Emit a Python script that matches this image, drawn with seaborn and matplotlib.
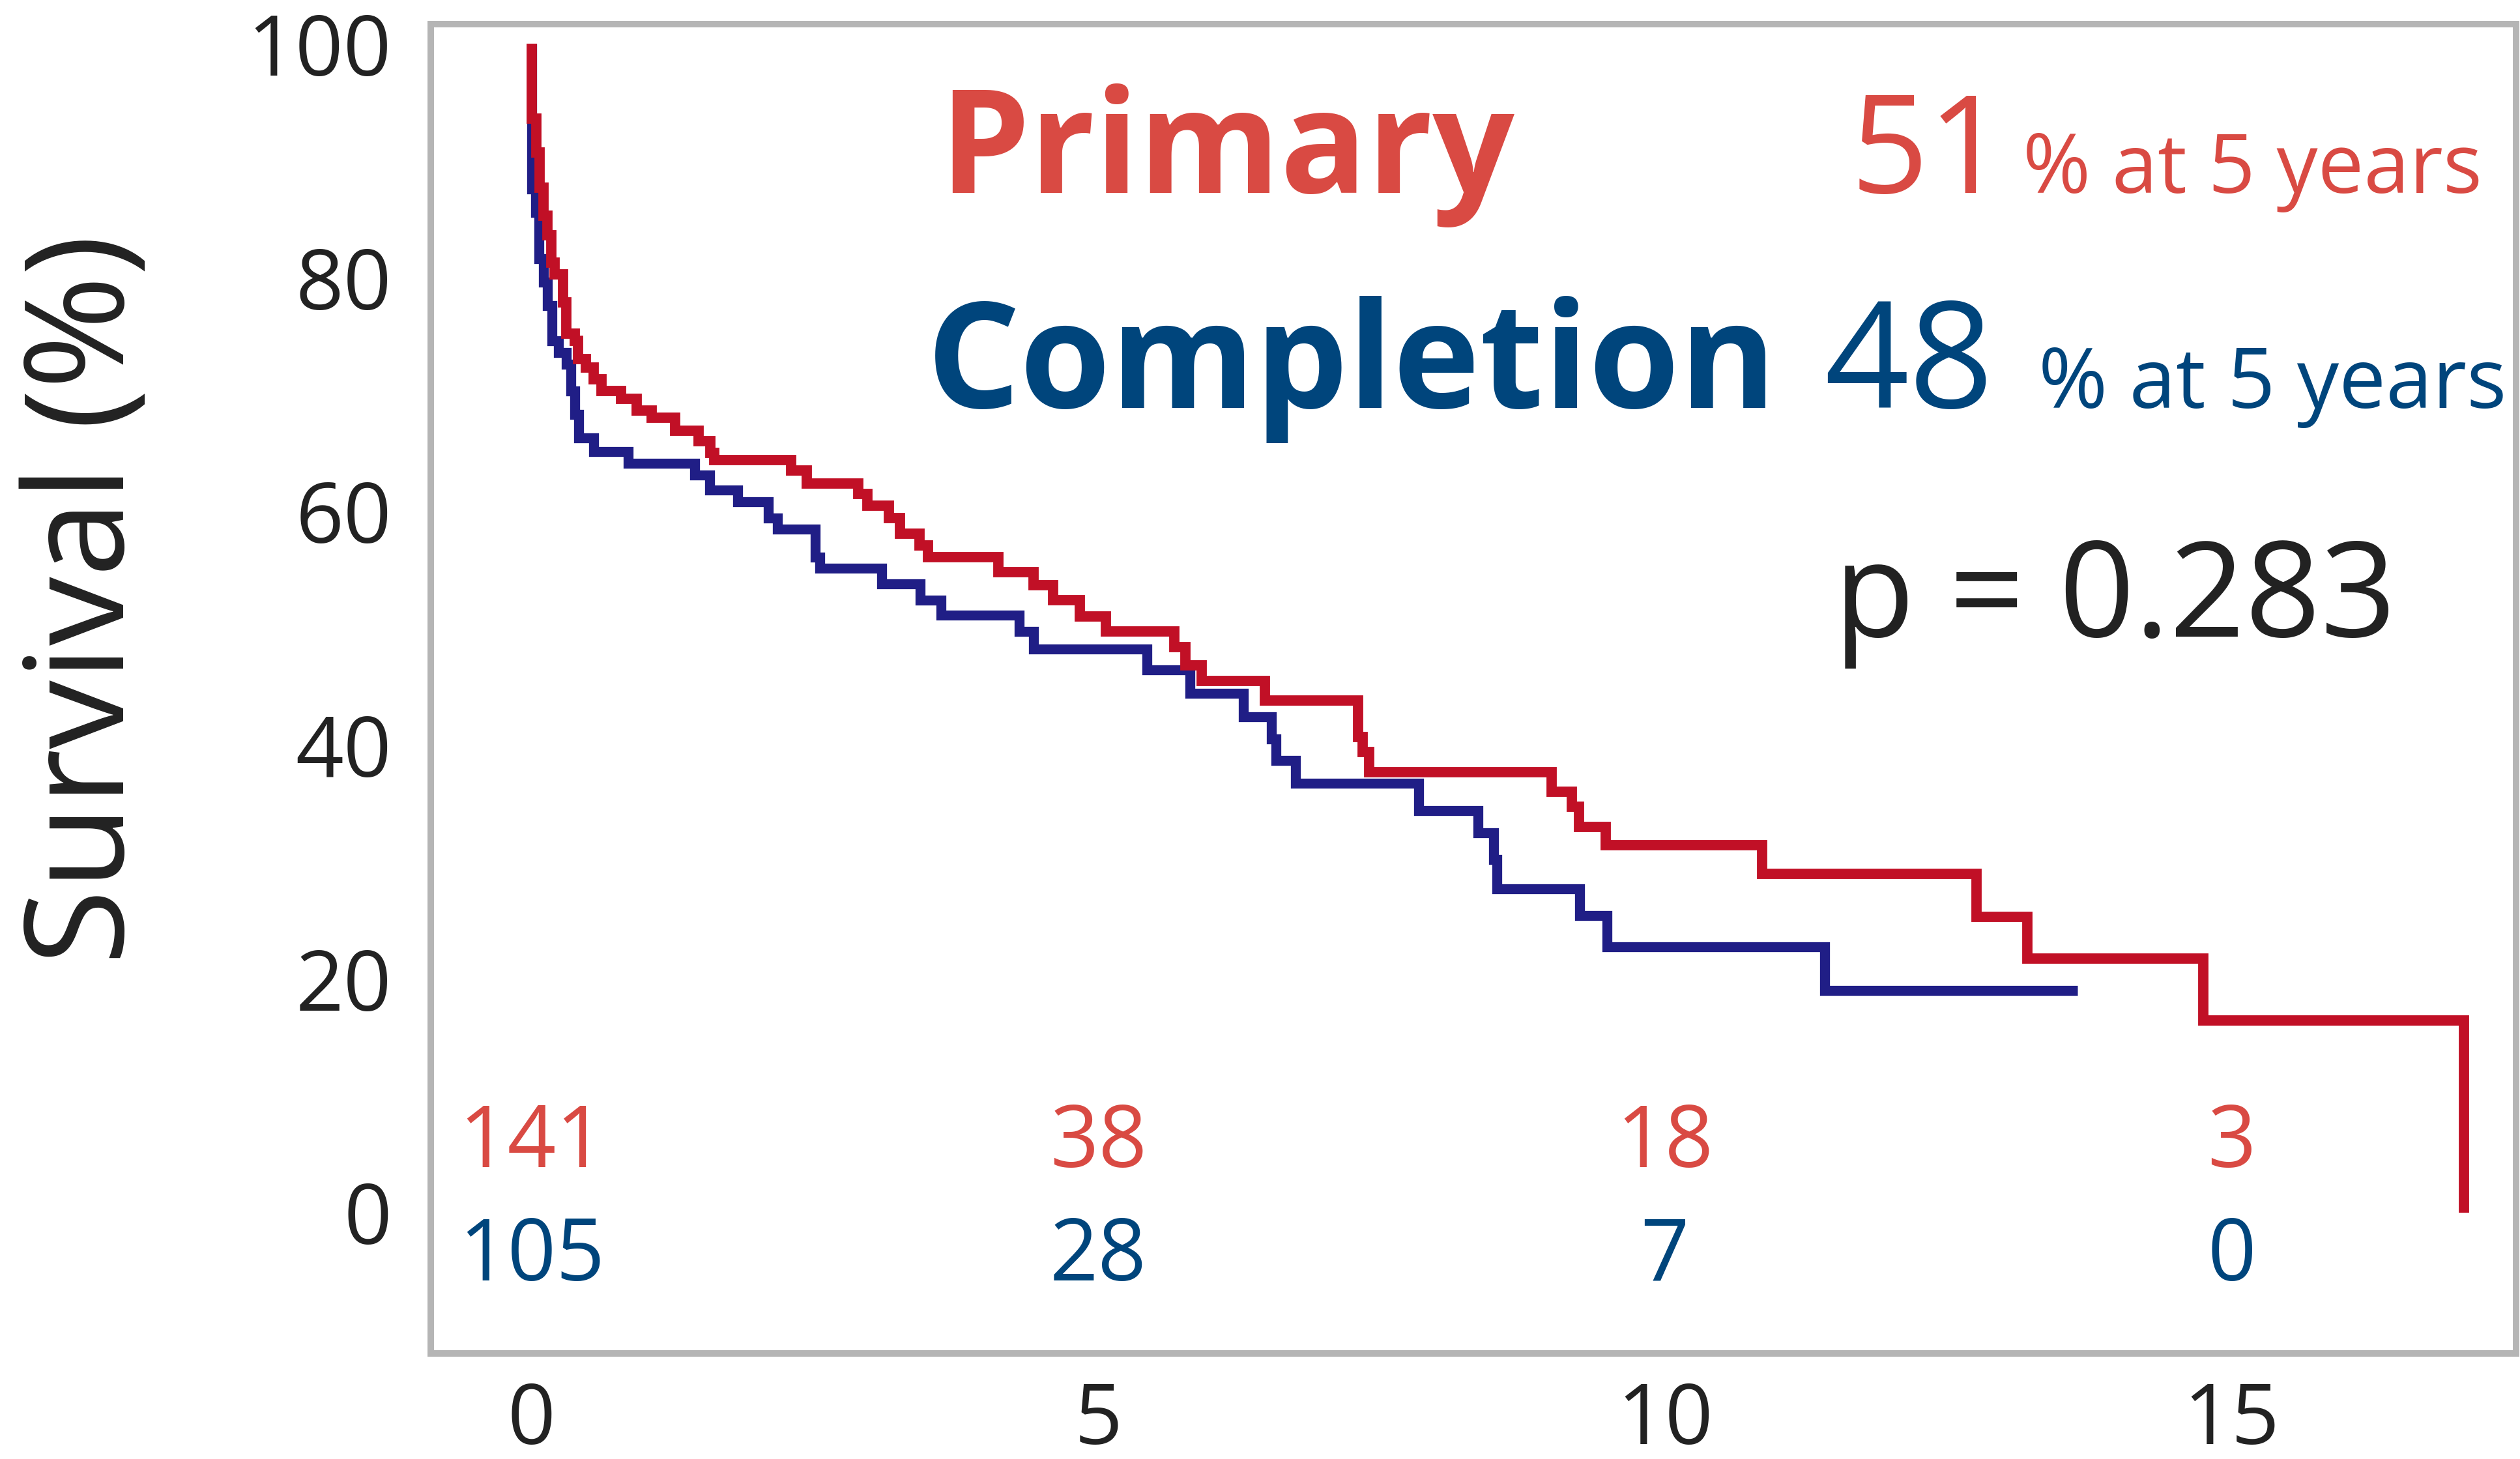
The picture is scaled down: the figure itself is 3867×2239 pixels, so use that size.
import numpy as np
import pandas as pd
import matplotlib
matplotlib.use("Agg")
import matplotlib.pyplot as plt
import seaborn as sb


# Kaplan-Meier steps (years, % alive after each drop)
primary_years = [0, 0, 0.039, 0.070, 0.103, 0.139, 0.175, 0.203, 0.275, 0.306,
                 0.378, 0.411, 0.481, 0.547, 0.617, 0.786, 0.925, 1.06, 1.266, 1.474,
                 1.577, 1.612, 2.29, 2.43, 2.88, 2.96, 3.15, 3.25, 3.42, 3.50,
                 4.12, 4.43, 4.60, 4.84, 5.07, 5.67, 5.77, 5.91, 6.47, 7.29,
                 7.33, 7.39, 9.00, 9.18, 9.24, 9.48, 10.86, 12.75, 13.20, 14.75,
                 17.05]
primary_surv = [100, 93.6, 90.7, 87.7, 85.3, 83.6, 81.3, 80.3, 77.9, 75.2,
                74.6, 73.0, 72.3, 71.3, 70.3, 69.6, 68.6, 68.0, 66.9, 66.0,
                65.0, 64.4, 63.5, 62.4, 61.5, 60.5, 59.4, 58.1, 57.1, 56.1,
                54.8, 53.7, 52.4, 51.0, 49.7, 48.4, 46.8, 45.5, 43.8, 40.7,
                39.4, 37.7, 36.0, 34.7, 33.0, 31.4, 29.0, 25.3, 21.7, 16.4,
                0]

completion_years = [0, 0, 0.036, 0.067, 0.106, 0.139, 0.178, 0.239, 0.306, 0.344,
                    0.378, 0.416, 0.547, 0.85, 1.44, 1.57, 1.82, 2.09, 2.17, 2.50,
                    2.54, 3.09, 3.43, 3.61, 4.30, 4.43, 5.43, 5.81, 6.28, 6.53,
                    6.57, 6.74, 7.83, 8.35, 8.49, 8.52, 9.25, 9.49, 11.41, 13.64]
completion_surv = [100, 87.6, 85.6, 81.6, 79.6, 77.6, 74.6, 73.6, 72.6, 70.3,
                   68.3, 66.3, 65.1, 64.1, 63.1, 61.8, 60.8, 59.4, 58.5, 56.1,
                   55.1, 53.8, 52.4, 51.1, 49.7, 48.2, 46.4, 44.4, 42.4, 40.5,
                   38.7, 36.7, 34.4, 32.5, 30.2, 27.7, 25.4, 22.7, 19.0, 19.0]

# numbers at risk
risk_years = [0, 5, 10, 15]
primary_at_risk = [141, 38, 18, 3]
completion_at_risk = [105, 28, 7, 0]

primary_5yr = 51
completion_5yr = 48
p_value = "0.283"

x_ticks = [0, 5, 10, 15]
y_ticks = [0, 20, 40, 60, 80, 100]

sb.set_theme(style="white")
plt.rcParams['font.family'] = ['Open Sans', 'DejaVu Sans']

red_line = "#C11026"
blue_line = "#201E86"
red_text = "#D94A43"
blue_text = "#00457C"
dark = "#222222"
grey = "#B5B5B5"

fig = plt.figure(figsize=(19.335, 11.195), dpi=200)
ax = fig.add_axes([0.1709, 0.07235, 0.8275, 0.91112])

# curves (completion underneath, primary on top)
sb.lineplot(x=completion_years, y=completion_surv, estimator=None, sort=False,
            drawstyle="steps-post", color=blue_line, lw=5.5, ax=ax,
            solid_capstyle="butt", solid_joinstyle="miter")
sb.lineplot(x=primary_years, y=primary_surv, estimator=None, sort=False,
            drawstyle="steps-post", color=red_line, lw=5.7, ax=ax,
            solid_capstyle="butt", solid_joinstyle="miter")

ax.set_xlim(-0.891, 17.51)
ax.set_ylim(-12.07, 101.69)
ax.set_xticks(x_ticks)
ax.set_yticks(y_ticks)
ax.grid(False)
for sp in ax.spines.values():
    sp.set_visible(True)
    sp.set_color(grey)
    sp.set_linewidth(3.6)
ax.tick_params(axis="both", direction="out", length=11.9, width=1.8,
               color="#BDBDBD", labelsize=46.5, labelcolor=dark)
ax.tick_params(axis="y", pad=9.7)
ax.tick_params(axis="x", pad=3)

ax.set_xlabel("")
ax.set_ylabel("Survival (%)", fontsize=76, color=dark, va="center")
ax.yaxis.set_label_coords(-0.1644, 0.5672)

# numbers at risk
for yr, n in zip(risk_years, primary_at_risk):
    ax.text(yr, 3.87, str(n), ha="center", va="baseline", fontsize=47, color=red_text)
for yr, n in zip(risk_years, completion_at_risk):
    ax.text(yr, -5.83, str(n), ha="center", va="baseline", fontsize=47, color=blue_text)

renderer = fig.canvas.get_renderer()


def fit_text(x, y, s, width_px, size, **kw):
    t = ax.text(x, y, s, ha="left", va="baseline", fontsize=size, **kw)
    for _ in range(2):
        w = t.get_window_extent(renderer=renderer).width
        t.set_fontsize(t.get_fontsize() * width_px / w)
    return t


fit_text(3.594, 87.27, "Primary", 883, 80, color=red_text, fontweight="bold")
fit_text(3.485, 68.84, "Completion", 1305, 80, color=blue_text, fontweight="bold")
big = fit_text(11.403, 68.84, str(completion_5yr), 260, 80, color=blue_text)
ax.text(11.64, 87.27, str(primary_5yr), ha="left", va="baseline",
        fontsize=big.get_fontsize() * 0.92, color=red_text)
fit_text(13.16, 87.27, "% at 5 years", 705, 46, color=red_text)
fit_text(13.295, 68.84, "% at 5 years", 718, 46, color=blue_text)

fit_text(11.49, 49.26, "p = " + p_value, 863, 76, color=dark)

fig.savefig("out.png", dpi=200)
